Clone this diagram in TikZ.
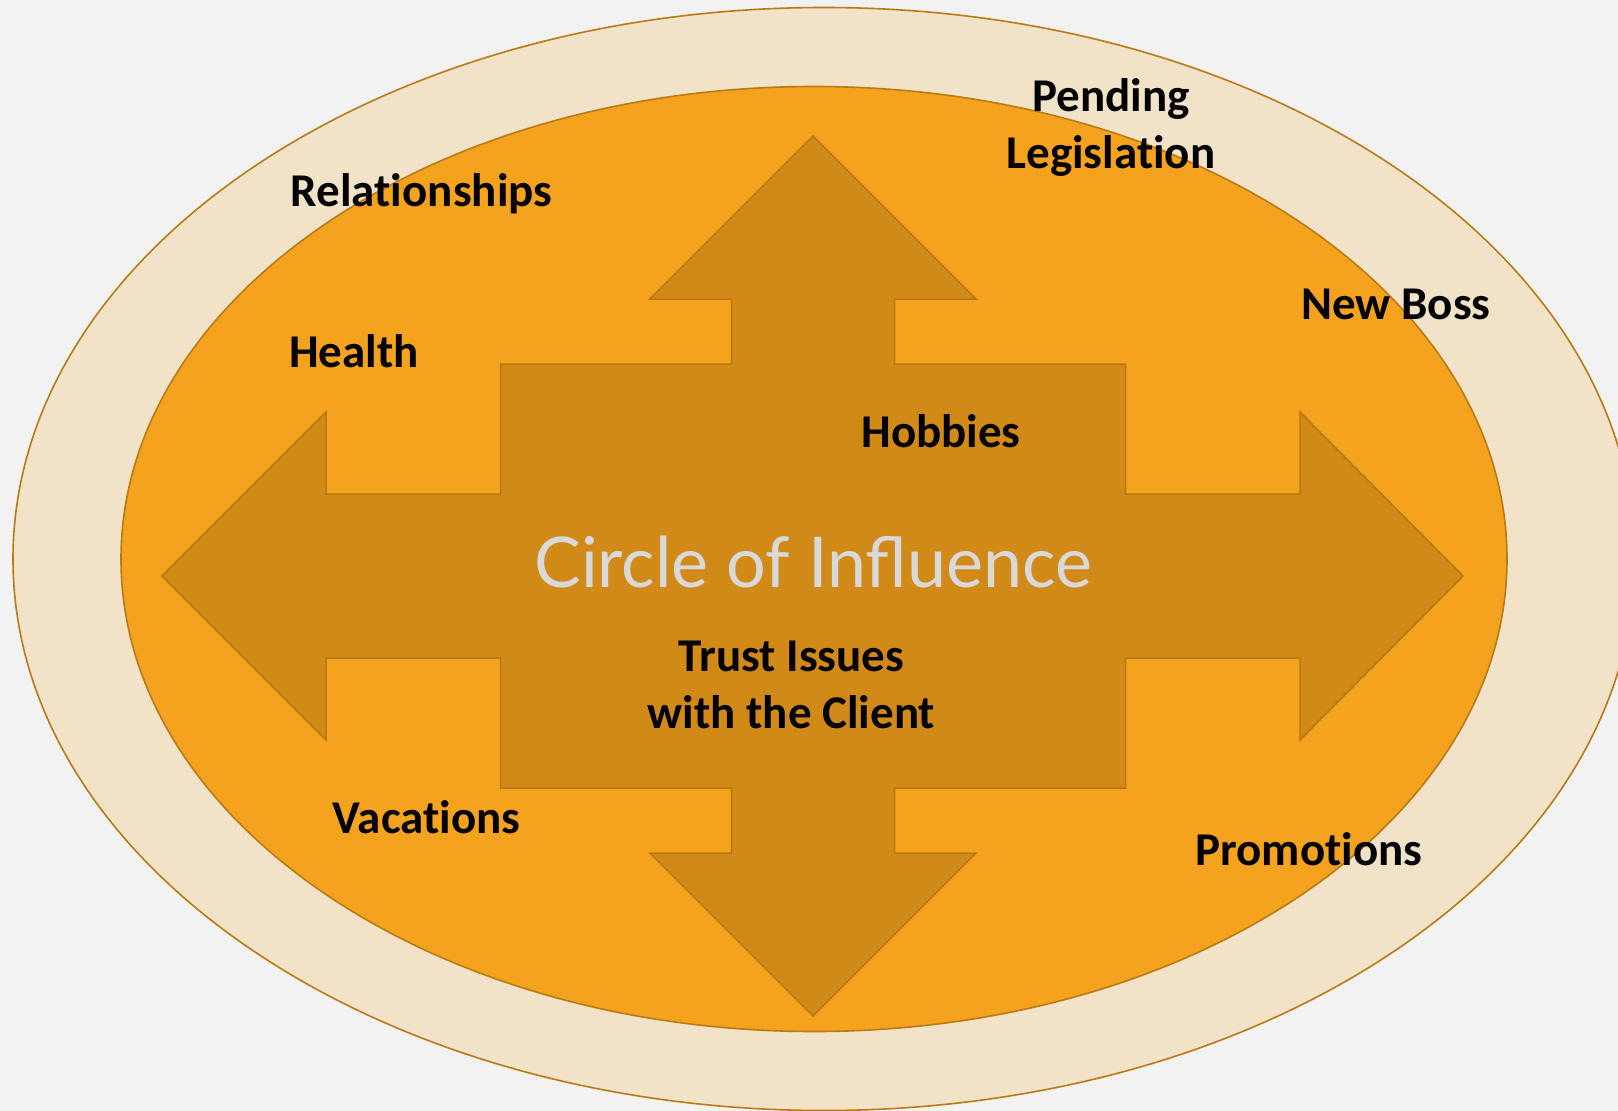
\documentclass[tikz,border=0pt]{standalone}
\usepackage{fontspec}
\setmainfont{Carlito}[Ligatures=NoCommon]
\newfontfamily\titlefont{Lato}
\newcommand\brk{\kern0pt{}}
\definecolor{bgc}{HTML}{F2F2F2}
\definecolor{outerfill}{HTML}{F2E2C8}
\definecolor{ringline}{HTML}{B97A14}
\definecolor{innerfill}{HTML}{F5A31F}
\definecolor{arrowfill}{HTML}{D18A18}
\definecolor{arrowline}{HTML}{B8770F}
\definecolor{titlec}{HTML}{D9D9D9}
\begin{document}
\begin{tikzpicture}[x=1pt,y=-1pt,
  lbl/.style={font=\fontsize{47}{57}\selectfont\bfseries, text=black, inner sep=0pt, anchor=base, align=center},
  ttl/.style={font=\titlefont\fontsize{70}{80}\selectfont, text=titlec, inner sep=0pt, anchor=base}]
\useasboundingbox (0,0) rectangle (1618,1111);
\fill[bgc] (0,0) rectangle (1618,1111);
\clip (0,0) rectangle (1618,1111);
% outer ring
\draw[fill=outerfill, draw=ringline, line width=1.6pt] (824,559) ellipse [x radius=811, y radius=551.5];
% inner circle of influence
\draw[fill=innerfill, draw=ringline, line width=1.6pt] (814,559) ellipse [x radius=693, y radius=472.5];
% four-way arrow
\draw[fill=arrowfill, draw=arrowline, line width=1.5pt, line join=miter]
  (813,136) -- (976,299) -- (894.5,299) -- (894.5,364) -- (1125.5,364) -- (1125.5,494)
  -- (1300,494) -- (1300,412) -- (1463,576) -- (1300,740) -- (1300,658) -- (1125.5,658)
  -- (1125.5,788) -- (894.5,788) -- (894.5,853) -- (976,853) -- (813,1016) -- (650,853)
  -- (731.5,853) -- (731.5,788) -- (500.5,788) -- (500.5,658) -- (326,658) -- (326,740)
  -- (162,576) -- (326,412) -- (326,494) -- (500.5,494) -- (500.5,364) -- (731.5,364)
  -- (731.5,299) -- (650,299) -- cycle;
% labels
\node[ttl] (title) at (813,587) {Circle of Influence};
\node[lbl] (pending) at (1111,168) {Pending\\Legislat\brk ion};
\node[lbl] (relationships) at (421.5,206) {Relat\brk ionships};
\node[lbl] (health) at (354,367) {Health};
\node[lbl] (newboss) at (1396,319) {New Boss};
\node[lbl] (hobbies) at (941,447) {Hobbies};
\node[lbl] (trust) at (791.5,728) {Trust Issues\\with the Client};
\node[lbl] (vacations) at (426.5,833) {Vacations};
\node[lbl] (promotions) at (1309,865) {Promot\brk ions};
\end{tikzpicture}
\end{document}
